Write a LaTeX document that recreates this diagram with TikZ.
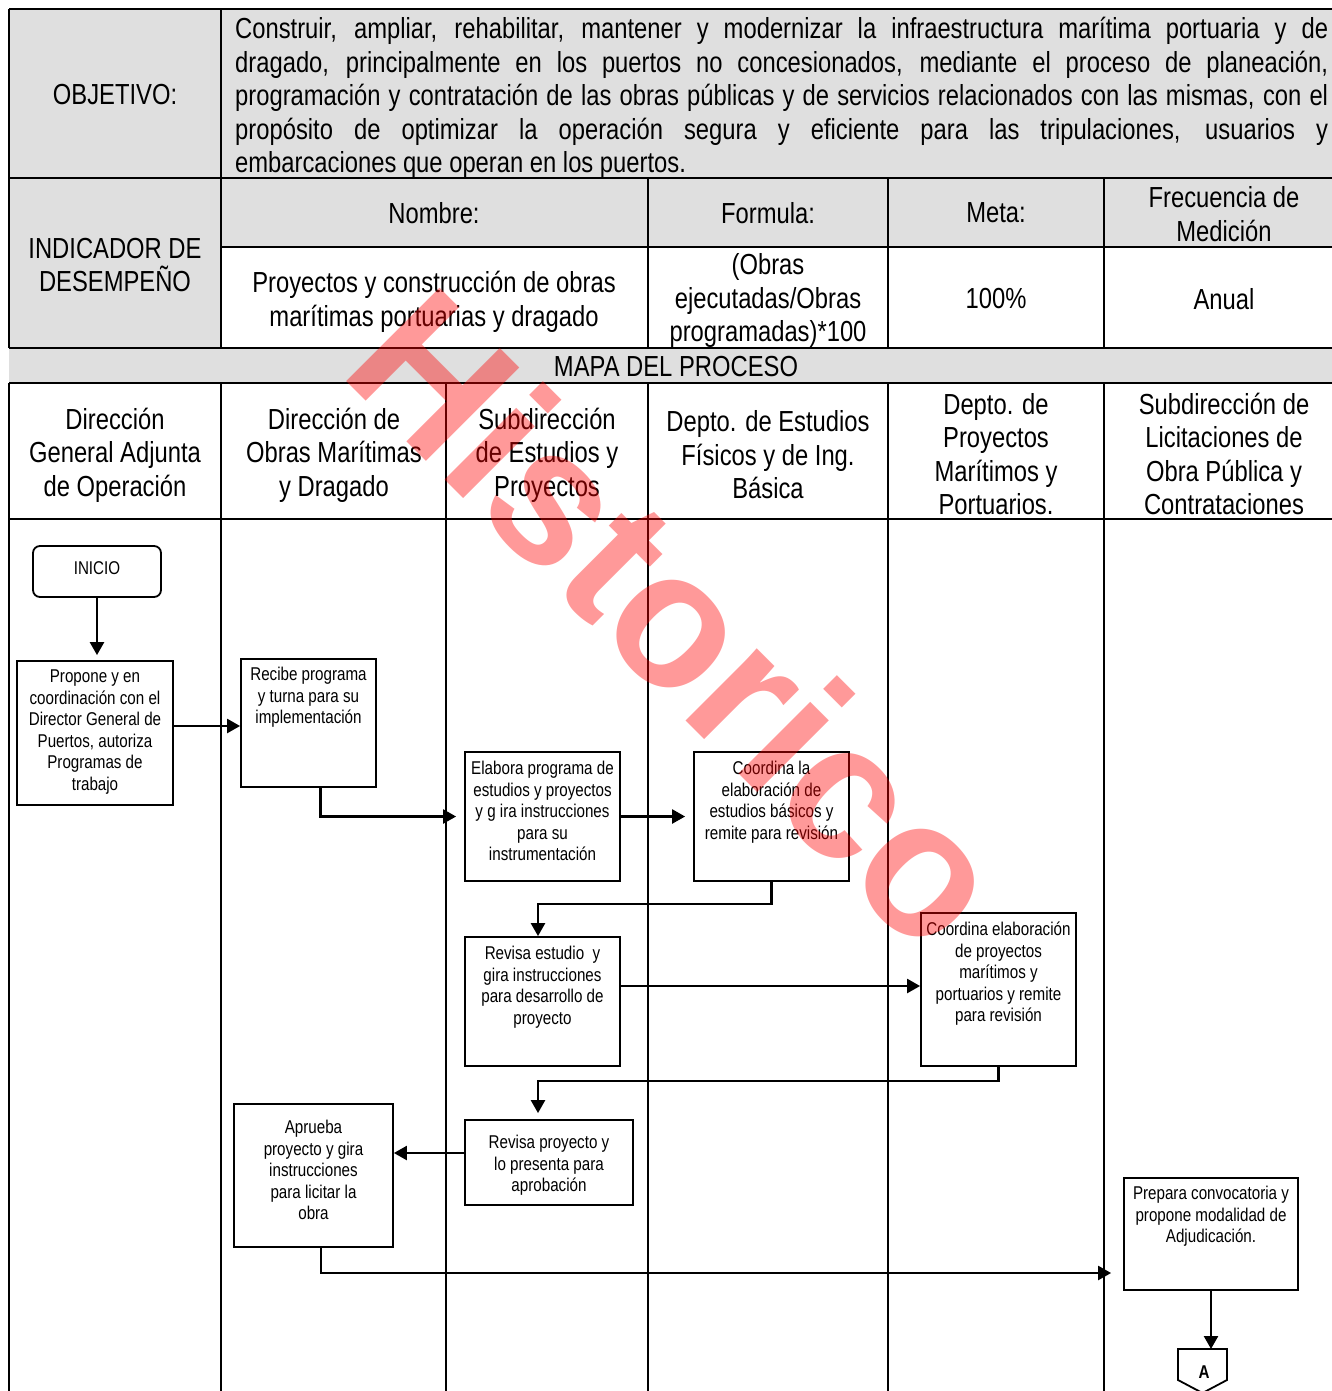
\documentclass[tikz,border=0pt]{standalone}
\usepackage{fontspec}
\setmainfont{Liberation Sans}[FakeStretch=0.82]
\newfontfamily\wmfont{Liberation Sans}
\usetikzlibrary{arrows.meta,calc}
\begin{document}
\begin{tikzpicture}[x=1pt,y=-1pt,
  tline/.style={line width=2pt},
  cell/.style={align=center,inner sep=0pt,font=\fontsize{29}{33.5}\selectfont},
  pbox/.style={draw,line width=1.8pt,inner sep=0pt},
  btxt/.style={align=center,inner sep=0pt,anchor=north,font=\fontsize{18.5}{21.5}\selectfont},
  conn/.style={line width=2.4pt,-{Triangle[length=13pt,width=14pt]}},
  hdrfill/.style={fill=gray!25,draw=none}
]
\useasboundingbox (0,0) rectangle (1332,1391);
\clip (0,0) rectangle (1332,1391);
\fill[white] (0,0) rectangle (1332,1391);

% ---------- gray fills ----------
\path[hdrfill] (9,9) rectangle (1344,178);
\path[hdrfill] (9,178) rectangle (221,348);
\path[hdrfill] (221,178) rectangle (1344,247);
\path[hdrfill] (9,348) rectangle (1344,383);

% ---------- table lines ----------
\draw[tline] (9,9) -- (1344,9);
\draw[tline] (9,178) -- (1344,178);
\draw[tline] (221,247) -- (1344,247);
\draw[tline] (9,348) -- (1344,348);
\draw[tline] (9,383) -- (1344,383);
\draw[tline] (9,519) -- (1344,519);
\draw[tline] (9,9) -- (9,348);
\draw[tline] (9,383) -- (9,1400);
\draw[tline] (221,9) -- (221,348);
\draw[tline] (221,383) -- (221,1400);
\draw[tline] (446,383) -- (446,1400);
\foreach \xx in {648,888,1104}{
  \draw[tline] (\xx,178) -- (\xx,348);
  \draw[tline] (\xx,383) -- (\xx,1400);
}

% ---------- texts of table ----------
\node[cell] (objlbl) at (115,95) {OBJETIVO:};
\node[anchor=north west,inner sep=0pt,text width=1093pt,align=justify,
      font=\fontsize{29}{33.5}\selectfont] (objtxt) at (235,17)
 {Construir, ampliar, rehabilitar, mantener y modernizar la infraestructura marítima portuaria y de\linebreak
  dragado, principalmente en los puertos no concesionados, mediante el proceso de planeación,\linebreak
  programación y contratación de las obras públicas y de servicios relacionados con las mismas, con el\linebreak
  propósito de optimizar la operación segura y eficiente para las tripulaciones, usuarios y\linebreak
  embarcaciones que operan en los puertos.};

\node[cell] (indlbl) at (115,265) {INDICADOR DE\\DESEMPEÑO};
\node[cell] (nomh) at (434,213) {Nombre:};
\node[cell] (forh) at (768,213) {Formula:};
\node[cell] (meth) at (996,213) {Meta:};
\node[cell] (freh) at (1224,214) {Frecuencia de\\Medición};
\node[cell] (nomv) at (434,302) {Proyectos y construcción de obras\\marítimas portuarias y dragado};
\node[cell] (forv) at (768,301) {(Obras\\ejecutadas/Obras\\programadas)*100};
\node[cell] (metv) at (996,299) {100\%};
\node[cell] (frev) at (1224,299) {Anual};
\node[cell] (mapa) at (676,367) {MAPA DEL PROCESO};

\node[cell] (l1) at (115,455) {Dirección\\General Adjunta\\de Operación};
\node[cell] (l2) at (334,455) {Dirección de\\Obras Marítimas\\y Dragado};
\node[cell] (l3) at (547,455) {Subdirección\\de Estudios y\\Proyectos};
\node[cell] (l4) at (768,455) {Depto. de Estudios\\Físicos y de Ing.\\Básica};
\node[cell] (l5) at (996,454) {Depto. de\\Proyectos\\Marítimos y\\Portuarios.};
\node[cell] (l6) at (1224,454) {Subdirección de\\Licitaciones de\\Obra Pública y\\Contrataciones};

% ---------- process boxes ----------
\node[pbox,rounded corners=7pt,minimum width=128pt,minimum height=51pt] (inicio) at (97,571.5) {};
\node[inner sep=0pt,font=\fontsize{18.5}{21.5}\selectfont] (iniciot) at (97,568) {INICIO};

\node[pbox,minimum width=156pt,minimum height=144pt] (propone) at (95,733) {};
\node[btxt] (proponet) at (95,670) {Propone y en\\coordinación con el\\Director General de\\Puertos, autoriza\\Programas de\\trabajo};

\node[pbox,minimum width=135pt,minimum height=128pt] (recibe) at (308.5,723) {};
\node[btxt] (recibet) at (308.5,667) {Recibe programa\\y turna para su\\implementación};

\node[pbox,minimum width=155pt,minimum height=129pt] (elabora) at (542.5,816.5) {};
\node[btxt] (elaborat) at (542.5,761) {Elabora programa de\\estudios y proyectos\\y g ira instrucciones\\para su\\instrumentación};

\node[pbox,minimum width=155pt,minimum height=129pt] (coord1) at (771.5,816.5) {};
\node[btxt] (coord1t) at (771.5,761) {Coordina la\\elaboración de\\estudios básicos y\\remite para revisión};

\node[pbox,minimum width=155pt,minimum height=129pt] (revisa1) at (542.5,1001.5) {};
\node[btxt] (revisa1t) at (542.5,946) {Revisa estudio~ y\\gira instrucciones\\para desarrollo de\\proyecto};

\node[pbox,minimum width=155pt,minimum height=153pt] (coord2) at (998.5,989.5) {};
\node[btxt] (coord2t) at (998.5,922) {Coordina elaboración\\de proyectos\\marítimos y\\portuarios y remite\\para revisión};

\node[pbox,minimum width=168pt,minimum height=85pt] (revisa2) at (549,1162.5) {};
\node[btxt] (revisa2t) at (549,1135) {Revisa proyecto y\\lo presenta para\\aprobación};

\node[pbox,minimum width=159pt,minimum height=143pt] (aprueba) at (313.5,1175.5) {};
\node[btxt] (apruebat) at (313.5,1120) {Aprueba\\proyecto y gira\\instrucciones\\para licitar la\\obra};

\node[pbox,minimum width=174pt,minimum height=112pt] (prepara) at (1211,1234) {};
\node[btxt] (preparat) at (1211,1186) {Prepara convocatoria y\\propone modalidad de\\Adjudicación.};

% off-page connector A
\coordinate (Atop) at (1202.5,1349);
\draw[line width=1.8pt] (1178,1349) -- (1227,1349) -- (1227,1380) -- (1202.5,1393) -- (1178,1380) -- cycle;
\node[inner sep=0pt,font=\fontsize{18.5}{21.5}\selectfont\bfseries] (A) at (1204,1372) {A};

% ---------- connectors ----------
\draw[conn,shorten >=5pt] (inicio.south) -- (inicio.south |- propone.north);
\draw[conn] (propone.east |- 0,726) -- (recibe.west |- 0,726);
\draw[conn,shorten >=8pt] ([xshift=12pt]recibe.south) |- (elabora.west);
\draw[conn,shorten >=8pt] (elabora.east) -- (coord1.west);
\draw[conn] (coord1.south) -- ++(0,22) -| ([xshift=-4.5pt]revisa1.north);
\draw[conn] (revisa1.east |- 0,986) -- (coord2.west |- 0,986);
\draw[conn,shorten >=6pt] (coord2.south) -- ++(0,14) -| ([xshift=-11pt]revisa2.north);
\draw[conn] (revisa2.west |- 0,1153) -- (aprueba.east |- 0,1153);
\draw[conn,shorten >=12pt] ([xshift=7.5pt]aprueba.south) |- (prepara.west |- 0,1273);
\draw[conn] (prepara.south) -- (prepara.south |- Atop);

% ---------- watermark ----------
\node[rotate=-45,text=red,text opacity=0.4,inner sep=0pt,
      font=\wmfont\bfseries\fontsize{192}{192}\selectfont] (wm) at (680,618) {Historico};
\end{tikzpicture}
\end{document}
